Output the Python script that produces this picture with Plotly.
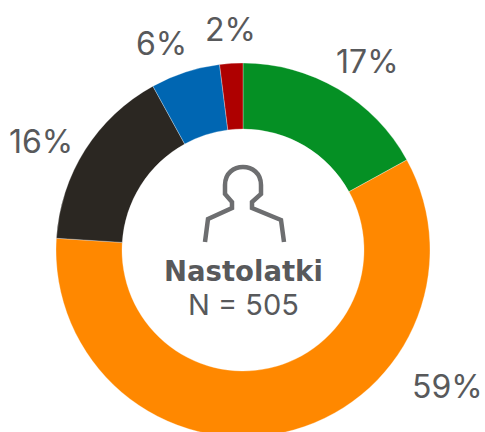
import plotly.graph_objects as go

categories = ["A", "B", "C", "D", "E"]
values = [17, 59, 16, 6, 2]
colors = ["#059024", "#FF8800", "#2B2722", "#0066B2", "#AE0000"]
label_pos = [(367, 62), (447, 386), (41, 141), (161, 44), (230, 29)]
title = "Nastolatki"
subtitle = "N = 505"
FONT = "Inter, 'Open Sans', sans-serif"
TEXT = "#58595B"
W, H = 485, 440

def px(x): return x / W
def py(y): return 1 - y / H

fig = go.Figure(go.Pie(
    labels=categories, values=values, sort=False, direction="clockwise", rotation=0,
    hole=0.647, textinfo="none", showlegend=False,
    marker=dict(colors=colors, line=dict(color="#ffffff", width=0.3)),
    domain=dict(x=[px(56), px(430)], y=[py(437), py(63)]),
))

ann = [dict(x=px(x), y=py(y), xref="paper", yref="paper", text=f"{v}%", showarrow=False,
            xanchor="center", yanchor="middle",
            font=dict(family=FONT, size=32, color=TEXT))
       for (x, y), v in zip(label_pos, values)]
ann.append(dict(x=px(243), y=py(271), xref="paper", yref="paper", text=f"<b>{title}</b>",
                showarrow=False, xanchor="center", yanchor="middle",
                font=dict(family="'DejaVu Sans', sans-serif", size=27.5, color=TEXT)))
ann.append(dict(x=px(243), y=py(304), xref="paper", yref="paper", text=subtitle,
                showarrow=False, xanchor="center", yanchor="middle",
                font=dict(family=FONT, size=29, color=TEXT)))

pts = [(205, 242), (208, 219), (232, 208), (232, 202), (225, 194), (225, 185)]
right = [(261, 185), (261, 194), (252, 202), (252, 208), (281, 220), (284, 242)]
d = "M " + " L ".join(f"{px(x):.5f},{py(y):.5f}" for x, y in pts)
d += f" C {px(225):.5f},{py(161):.5f} {px(261):.5f},{py(161):.5f} {px(261):.5f},{py(185):.5f} "
d += "L " + " L ".join(f"{px(x):.5f},{py(y):.5f}" for x, y in right)

fig.update_layout(
    width=W, height=H, margin=dict(l=0, r=0, t=0, b=0),
    paper_bgcolor="#ffffff", plot_bgcolor="#ffffff",
    annotations=ann,
    shapes=[dict(type="path", path=d, xref="paper", yref="paper",
                 line=dict(color="#6D6E70", width=4.5), fillcolor="rgba(0,0,0,0)")],
)
fig.write_html("out.html", config=dict(displayModeBar=False),
               post_script="document.body.style.margin='0';document.documentElement.style.overflow='hidden';document.body.style.overflow='hidden';")
